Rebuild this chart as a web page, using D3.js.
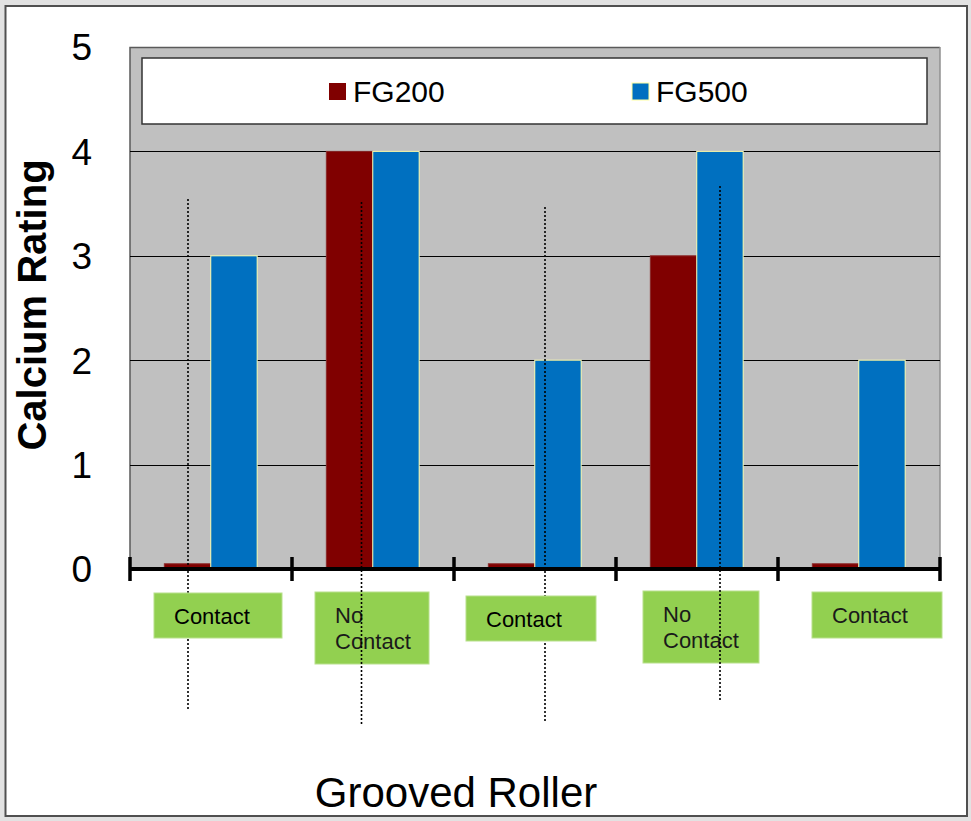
<!DOCTYPE html>
<html><head><meta charset="utf-8">
<script src="https://cdn.jsdelivr.net/npm/d3@7"></script>
<style>
  body { margin: 0; background: #e2e2e2; }
  svg { display: block; font-family: "Liberation Sans", Arial, sans-serif; }
</style>
</head><body>
<svg id="chart" width="971" height="821"></svg>
<script>
// ---- data ----
const categories = [0, 1, 2, 3, 4];
const seriesNames = ["FG200", "FG500"];
const fg200 = [0.05, 4, 0.05, 3, 0.05];
const fg500 = [3, 4, 2, 4, 2];
const yTicks = [0, 1, 2, 3, 4, 5];
const contactLabels = [["Contact"], ["No", "Contact"], ["Contact"], ["No", "Contact"], ["Contact"]];
const xTitle = "Grooved Roller";
const yTitle = "Calcium Rating";

// ---- layout ----
const colors = { FG200: "#800000", FG500: "#0070c0" };
const plot = { left: 130, right: 940, top: 47, bottom: 569 };
// label boxes under each group: offset of box centre from band centre, size
const boxLayout = [
  { dx: 7,  y: 593, w: 128, h: 45 },
  { dx: -1, y: 592, w: 114, h: 72 },
  { dx: -4, y: 596, w: 130, h: 45 },
  { dx: 4,  y: 591, w: 116, h: 72 },
  { dx: 18, y: 592, w: 130, h: 46 }
];
// dotted guide lines (group index, offset from band centre, vertical extent)
const guideLines = [
  { cat: 0, dx: -23,  y1: 199, y2: 709, front: false },
  { cat: 1, dx: -11.5, y1: 202, y2: 725, front: true },
  { cat: 2, dx: 10,   y1: 207, y2: 721, front: false },
  { cat: 3, dx: 23,   y1: 186, y2: 700, front: true }
];

const svg = d3.select("#chart");

// outer frame
svg.append("rect").attr("x", 5.5).attr("y", 6).attr("width", 961.5).attr("height", 810)
  .attr("fill", "#fff").attr("stroke", "#505050").attr("stroke-width", 2);

const x0 = d3.scaleBand().domain(categories).range([plot.left, plot.right]).padding(0);
const bw = x0.bandwidth();
const x1 = d3.scaleBand().domain(seriesNames).range([bw * 0.212, bw * 0.785]).padding(0);
const y = d3.scaleLinear().domain([0, 5]).range([plot.bottom, plot.top]);

// plot background
svg.append("rect").attr("x", plot.left).attr("y", plot.top)
  .attr("width", plot.right - plot.left).attr("height", plot.bottom - plot.top)
  .attr("fill", "#c0c0c0");
svg.append("path")
  .attr("d", `M${plot.left},${plot.bottom}V${plot.top + 0.5}H${plot.right}`)
  .attr("fill", "none").attr("stroke", "#5a5a5a").attr("stroke-width", 1.5);
svg.append("line").attr("x1", plot.right).attr("x2", plot.right)
  .attr("y1", plot.top).attr("y2", plot.bottom).attr("stroke", "#909090").attr("stroke-width", 1.5);

// horizontal grid lines
svg.append("g").selectAll("line").data(yTicks.filter(t => t > 0 && t < 5)).join("line")
  .attr("x1", plot.left).attr("x2", plot.right)
  .attr("y1", d => Math.round(y(d)) + 0.5).attr("y2", d => Math.round(y(d)) + 0.5)
  .attr("stroke", "#000").attr("stroke-width", 1);

// y tick labels
svg.append("g").selectAll("text").data(yTicks).join("text")
  .attr("x", 92).attr("y", d => y(d)).attr("dy", "0.36em")
  .attr("text-anchor", "end").attr("font-size", 37).attr("fill", "#000")
  .text(d => d);

// legend
const lg = svg.append("g");
lg.append("rect").attr("x", 142).attr("y", 58).attr("width", 785).attr("height", 66)
  .attr("fill", "#fff").attr("stroke", "#333").attr("stroke-width", 1.5);
const legendX = [329, 632];
seriesNames.forEach((s, i) => {
  lg.append("rect").attr("x", legendX[i]).attr("y", 83).attr("width", 17).attr("height", 17)
    .attr("fill", colors[s]).attr("stroke", i === 1 ? "#ffffa0" : "none").attr("stroke-width", 1);
  lg.append("text").attr("x", legendX[i] + 24).attr("y", 102)
    .attr("font-size", 30).attr("fill", "#000").text(s);
});

// bars
const groups = svg.append("g").selectAll("g").data(categories).join("g")
  .attr("transform", d => `translate(${x0(d)},0)`);
groups.selectAll("rect")
  .data(i => seriesNames.map(s => ({ s, v: s === "FG200" ? fg200[i] : fg500[i] })))
  .join("rect")
  .attr("x", d => x1(d.s)).attr("width", x1.bandwidth())
  .attr("y", d => y(d.v)).attr("height", d => y(0) - y(d.v))
  .attr("fill", d => colors[d.s])
  .attr("stroke", d => d.s === "FG500" ? "#ffffb0" : "#8a2a2a")
  .attr("stroke-width", 1);

// x axis with boundary ticks
const ax = svg.append("g");
ax.append("line").attr("x1", plot.left).attr("x2", plot.right)
  .attr("y1", y(0)).attr("y2", y(0)).attr("stroke", "#000").attr("stroke-width", 4);
const bounds = categories.map(c => x0(c)).concat([plot.right]);
ax.selectAll(".tk").data(bounds).join("line").attr("class", "tk")
  .attr("x1", d => d).attr("x2", d => d)
  .attr("y1", y(0) - 12).attr("y2", y(0) + 12)
  .attr("stroke", "#000").attr("stroke-width", 3.5);

// guide lines drawn beneath label boxes
function drawGuides(list) {
  svg.append("g").selectAll("line").data(list).join("line")
    .attr("x1", d => x0(d.cat) + bw / 2 + d.dx).attr("x2", d => x0(d.cat) + bw / 2 + d.dx)
    .attr("y1", d => d.y1).attr("y2", d => d.y2)
    .attr("stroke", "#000").attr("stroke-width", 1.6).attr("stroke-dasharray", "2 2");
}
drawGuides(guideLines.filter(g => !g.front));

// green label boxes
categories.forEach(i => {
  const b = boxLayout[i];
  const cx = x0(i) + bw / 2 + b.dx;
  const bx = cx - b.w / 2;
  svg.append("rect").attr("x", bx).attr("y", b.y).attr("width", b.w).attr("height", b.h)
    .attr("fill", "#92d050").attr("stroke", "#b8e08c").attr("stroke-width", 1);
  const lines = contactLabels[i];
  const t = svg.append("text").attr("font-size", 22)
    .attr("fill", lines.length > 1 || i === 4 ? "#1a1a1a" : "#000");
  lines.forEach((ln, k) => {
    t.append("tspan").attr("x", bx + 20)
      .attr("y", lines.length > 1 ? b.y + 31 + k * 26 : b.y + 31)
      .text(ln);
  });
});

drawGuides(guideLines.filter(g => g.front));

// axis titles
svg.append("text").attr("x", 456).attr("y", 807).attr("text-anchor", "middle")
  .attr("font-size", 42).attr("fill", "#000").text(xTitle);
svg.append("text").attr("transform", "translate(46,305) rotate(-90)")
  .attr("text-anchor", "middle").attr("font-size", 40).attr("font-weight", "bold")
  .attr("fill", "#000").text(yTitle);
</script>
</body></html>
